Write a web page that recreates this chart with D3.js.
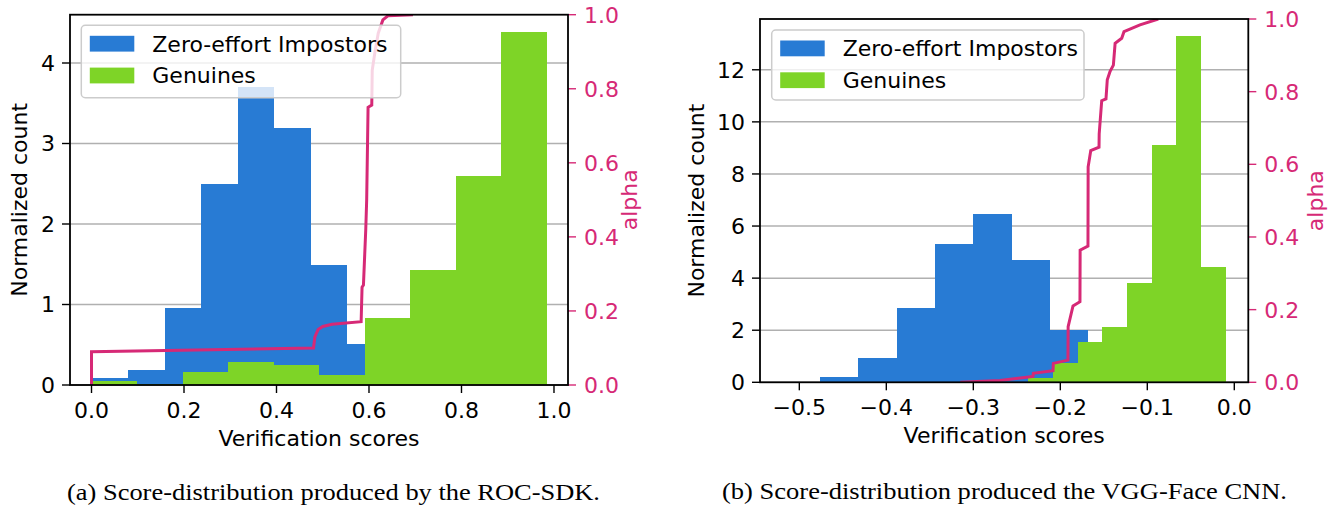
<!DOCTYPE html>
<html>
<head>
<meta charset="utf-8">
<script src="https://cdn.jsdelivr.net/npm/d3@7"></script>
<style>
  body { margin: 0; background: #fff; }
  svg { display: block; }
</style>
</head>
<body>
<svg id="fig" width="1344" height="510"></svg>
<script>
// ---- data ----
var seriesNames = ['Zero-effort Impostors', 'Genuines']

// (a) ROC-SDK
var rocImpEdges = [0, 0.079, 0.158, 0.237, 0.316, 0.395, 0.474, 0.553, 0.632]
var rocImpCounts = [0.09, 0.19, 0.96, 2.50, 3.70, 3.19, 1.49, 0.51]
var rocGenEdges = [0, 0.0984, 0.1968, 0.2952, 0.3936, 0.492, 0.5904, 0.6888, 0.7872, 0.8856, 0.984]
var rocGenCounts = [0.05, 0.01, 0.16, 0.28, 0.25, 0.13, 0.83, 1.43, 2.60, 4.38]
var rocAlphaScores = [0, 0, 0.48, 0.483, 0.49, 0.50, 0.52, 0.583, 0.585, 0.588, 0.593, 0.595, 0.598, 0.606, 0.6065, 0.607, 0.613, 0.620, 0.630, 0.641, 0.695]
var rocAlpha = [0, 0.09, 0.10, 0.13, 0.15, 0.158, 0.164, 0.171, 0.264, 0.27, 0.42, 0.5, 0.75, 0.756, 0.80, 0.85, 0.90, 0.95, 0.986, 0.997, 1.0]
var rocXTicks = [0, 0.2, 0.4, 0.6, 0.8, 1.0]
var rocYTicks = [0, 1, 2, 3, 4]

// (b) VGG-Face CNN
var vggImpEdges = [-0.476, -0.432, -0.388, -0.344, -0.300, -0.256, -0.212, -0.168]
var vggImpCounts = [0.20, 0.93, 2.85, 5.32, 6.46, 4.69, 2.01]
var vggGenEdges = [-0.2933, -0.2650, -0.2366, -0.2083, -0.1800, -0.1516, -0.1233, -0.0949, -0.0666, -0.0382, -0.0099]
var vggGenCounts = [0.01, 0.03, 0.18, 0.73, 1.56, 2.12, 3.82, 9.10, 13.30, 4.44]
var vggAlphaScores = [-0.315, -0.2693, -0.2314, -0.2310, -0.2084, -0.2080, -0.1912, -0.1910, -0.1854, -0.1774, -0.1772, -0.1682, -0.1680, -0.165, -0.1555, -0.1553, -0.1524, -0.1475, -0.146, -0.1429, -0.139, -0.137, -0.1294, -0.1268, -0.1084, -0.0874]
var vggAlpha = [0, 0.005, 0.016, 0.025, 0.032, 0.052, 0.061, 0.153, 0.21, 0.222, 0.364, 0.375, 0.593, 0.638, 0.647, 0.684, 0.775, 0.78, 0.833, 0.855, 0.873, 0.933, 0.947, 0.965, 0.984, 1.0]
var vggXTicks = [-0.5, -0.4, -0.3, -0.2, -0.1, 0.0]
var vggYTicks = [0, 2, 4, 6, 8, 10, 12]

var alphaTicks = [0, 0.2, 0.4, 0.6, 0.8, 1.0]
var captions = ['(a) Score-distribution produced by the ROC-SDK.', '(b) Score-distribution produced the VGG-Face CNN.']

var BLUE = '#287bd4', GREEN = '#7ed427', PINK = '#d62976'
var FONT = 'DejaVu Sans'

var svg = d3.select('#fig')

function drawPanel (p) {
    var x = d3.scaleLinear().domain(p.xDomain).range([p.left, p.right])
    var y = d3.scaleLinear().domain(p.yDomain).range([p.bottom, p.top])
    var ya = d3.scaleLinear().domain([0, 1]).range([p.bottom, p.top])
    var g = svg.append('g')

    g.append('clipPath').attr('id', p.id + 'clip')
        .append('rect')
        .attr('x', p.left).attr('y', p.top)
        .attr('width', p.right - p.left).attr('height', p.bottom - p.top)

    // grid (under the bars)
    g.selectAll('.grid').data(p.yTicks).enter()
        .append('line')
        .attr('x1', p.left).attr('x2', p.right)
        .attr('y1', function (d) { return y(d) }).attr('y2', function (d) { return y(d) })
        .style('stroke', '#b0b0b0').style('stroke-width', 1.5)

    var plot = g.append('g').attr('clip-path', 'url(#' + p.id + 'clip)')

    function hist (edges, counts, color) {
        plot.append('g').selectAll('rect')
            .data(counts).enter()
            .append('rect')
            .attr('x', function (d, i) { return x(edges[i]) })
            .attr('width', function (d, i) { return x(edges[i + 1]) - x(edges[i]) })
            .attr('y', function (d) { return y(d) })
            .attr('height', function (d) { return y(0) - y(d) })
            .attr('fill', color)
            .attr('shape-rendering', 'crispEdges')
    }
    hist(p.impEdges, p.impCounts, BLUE)
    hist(p.genEdges, p.genCounts, GREEN)

    // legend
    var lg = g.append('g')
    lg.append('rect')
        .attr('x', p.leg[0]).attr('y', p.leg[1])
        .attr('width', p.leg[2]).attr('height', p.leg[3])
        .attr('rx', 4)
        .style('fill', '#fff').style('fill-opacity', 0.8)
        .style('stroke', '#cccccc').style('stroke-width', 1.5)
    lg.selectAll('.patch').data(seriesNames).enter()
        .append('rect')
        .attr('x', p.leg[0] + 8.5)
        .attr('y', function (d, i) { return p.leg[1] + 10.5 + i * 31.8 })
        .attr('width', 44.5).attr('height', 15.8)
        .attr('fill', function (d, i) { return i === 0 ? BLUE : GREEN })
    lg.selectAll('text').data(seriesNames).enter()
        .append('text')
        .attr('x', p.leg[0] + 71)
        .attr('y', function (d, i) { return p.leg[1] + 26.3 + i * 31.8 })
        .style('font-family', FONT).style('font-size', '22px')
        .text(function (d) { return d })

    // alpha curve on the twin axis
    var pts = p.alphaScores.map(function (s, i) { return [s, p.alpha[i]] })
    plot.append('path')
        .datum(pts)
        .attr('d', d3.line().x(function (d) { return x(d[0]) }).y(function (d) { return ya(d[1]) }))
        .style('fill', 'none').style('stroke', PINK).style('stroke-width', 3)

    // ticks
    g.selectAll('.xt').data(p.xTicks).enter()
        .append('line')
        .attr('x1', function (d) { return x(d) }).attr('x2', function (d) { return x(d) })
        .attr('y1', p.bottom).attr('y2', p.bottom + 8)
        .style('stroke', '#000').style('stroke-width', 1.4)
    g.selectAll('.xl').data(p.xTicks).enter()
        .append('text')
        .attr('x', function (d) { return x(d) }).attr('y', p.bottom + 33)
        .attr('text-anchor', 'middle')
        .style('font-family', FONT).style('font-size', '22px')
        .text(d3.format('.1f'))

    g.selectAll('.yt').data(p.yTicks).enter()
        .append('line')
        .attr('x1', p.left - 8).attr('x2', p.left)
        .attr('y1', function (d) { return y(d) }).attr('y2', function (d) { return y(d) })
        .style('stroke', '#000').style('stroke-width', 1.4)
    g.selectAll('.yl').data(p.yTicks).enter()
        .append('text')
        .attr('x', p.left - 15).attr('y', function (d) { return y(d) })
        .attr('dy', '0.36em')
        .attr('text-anchor', 'end')
        .style('font-family', FONT).style('font-size', '22px')
        .text(function (d) { return d })

    g.selectAll('.at').data(alphaTicks).enter()
        .append('line')
        .attr('x1', p.right).attr('x2', p.right + 8)
        .attr('y1', function (d) { return ya(d) }).attr('y2', function (d) { return ya(d) })
        .style('stroke', PINK).style('stroke-width', 1.4)
    g.selectAll('.al').data(alphaTicks).enter()
        .append('text')
        .attr('x', p.right + 16).attr('y', function (d) { return ya(d) })
        .attr('dy', '0.36em')
        .style('font-family', FONT).style('font-size', '22px')
        .style('fill', PINK)
        .text(d3.format('.1f'))

    // spines
    g.append('rect')
        .attr('x', p.left).attr('y', p.top)
        .attr('width', p.right - p.left).attr('height', p.bottom - p.top)
        .style('fill', 'none').style('stroke', '#000').style('stroke-width', 1.8)

    // axis labels
    g.append('text')
        .attr('x', (p.left + p.right) / 2).attr('y', p.bottom + 61)
        .attr('text-anchor', 'middle')
        .style('font-family', FONT).style('font-size', '22px')
        .text('Verification scores')
    g.append('text')
        .attr('transform', 'translate(' + p.ylabX + ',' + (p.top + p.bottom) / 2 + ') rotate(-90)')
        .attr('text-anchor', 'middle')
        .style('font-family', FONT).style('font-size', '22px')
        .text('Normalized count')
    g.append('text')
        .attr('transform', 'translate(' + p.alabX + ',' + (p.top + p.bottom) / 2 + ') rotate(-90)')
        .attr('text-anchor', 'middle')
        .style('font-family', FONT).style('font-size', '22px')
        .style('fill', PINK)
        .text('alpha')

    // caption
    svg.append('text')
        .attr('x', p.cap[0]).attr('y', p.cap[1])
        .attr('textLength', p.cap[2]).attr('lengthAdjust', 'spacingAndGlyphs')
        .style('font-family', 'Liberation Serif').style('font-size', '23px')
        .text(p.caption)
}

drawPanel({
    id: 'a', left: 70, right: 568, top: 14.7, bottom: 385,
    xDomain: [-0.0465, 1.0303], yDomain: [0, 4.6],
    impEdges: rocImpEdges, impCounts: rocImpCounts,
    genEdges: rocGenEdges, genCounts: rocGenCounts,
    alphaScores: rocAlphaScores, alpha: rocAlpha,
    xTicks: rocXTicks, yTicks: rocYTicks,
    leg: [81.3, 25.3, 319.4, 72.4],
    ylabX: 27, alabX: 637,
    cap: [67, 500, 533], caption: captions[0]
})

drawPanel({
    id: 'b', left: 760, right: 1248.3, top: 19, bottom: 382.3,
    xDomain: [-0.5452, 0.0161], yDomain: [0, 13.95],
    impEdges: vggImpEdges, impCounts: vggImpCounts,
    genEdges: vggGenEdges, genCounts: vggGenCounts,
    alphaScores: vggAlphaScores, alpha: vggAlpha,
    xTicks: vggXTicks, yTicks: vggYTicks,
    leg: [771.7, 30, 312.3, 70],
    ylabX: 704, alabX: 1323,
    cap: [722, 499, 565], caption: captions[1]
})
</script>
</body>
</html>
